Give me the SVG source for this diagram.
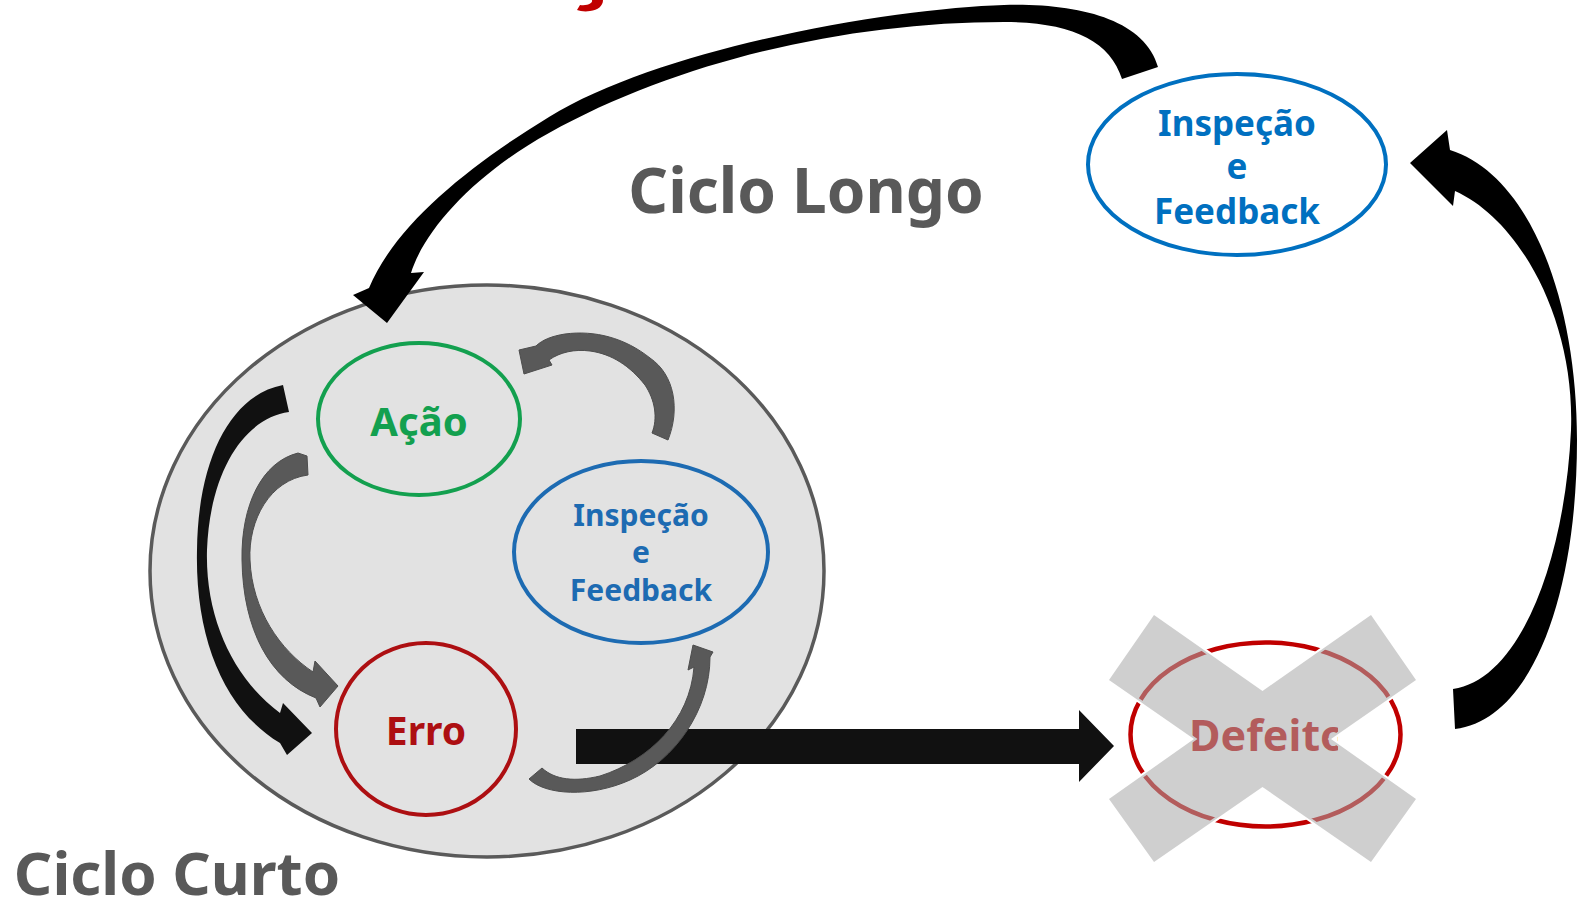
<svg xmlns="http://www.w3.org/2000/svg" width="1577" height="903" viewBox="0 0 1577 903">
<defs>
<style>
.t{font-family:"Noto Sans","Open Sans","Liberation Sans",sans-serif;font-weight:700;text-anchor:middle}
.big{fill:#595959}
.blk{fill:#000}
.dark{fill:#111}
.gry{fill:#595959;stroke:#4d4d4d;stroke-width:1}
.node{fill:none;stroke-width:4}
</style>
<clipPath id="defclip"><rect x="1150" y="690" width="188" height="80"/></clipPath>
</defs>
<rect width="1577" height="903" fill="#fff"/>
<path d="M603,0 C603,6 598,10 590,11 C585,12 580,11 577,10 L580,5 C588,6 593,3 592,0 Z" fill="#c00000"/>
<g id="ciclo-curto-area">
<ellipse cx="487" cy="571" rx="337" ry="286" fill="#e2e2e2" stroke="#5a5a5a" stroke-width="3.5"/>
</g>
<g id="connectors">
<path class="dark" d="M283,385 L289,412 C245,418 210,470 207,550 C205,620 235,680 280,713 L283,703 L312,733 L287,755 L280,743 C225,710 195,640 197,550 C198,460 230,395 283,385 Z"/>
<path class="gry" d="M298,453 L307,456 L308,475 C270,480 248,520 250,560 C252,610 280,650 313,672 L315,661 L338,686 L320,707 L316,698 C270,680 243,630 242,560 C241,505 262,462 298,453 Z"/>
<path class="gry" d="M652,433 L668,440 C680,410 675,375 650,358 C625,338 595,330 565,334 C552,336 542,340 536,346 L519,350 L524,374 L552,365 L549,360 C560,352 575,349 590,351 C612,354 630,366 645,385 C655,400 658,418 652,433 Z"/>
<path class="dark" d="M576,729 L1079,729 L1079,710 L1114,746 L1079,782 L1079,764 L576,764 Z"/>
<path class="gry" d="M542,768 L529,779 C545,795 590,798 630,780 C675,760 710,710 710,657 L713,652 L693,645 L688,670 L694,667 C690,720 650,760 600,776 C575,782 555,780 542,768 Z"/>
<path class="blk" d="M1158,67 C1145,20 1080,3 1004,5 C900,8 667,45 549,117 C470,165 395,225 369,288 L353,295 L387,323 L424,272 L411,273 C425,228 478,172 549,133 C680,60 850,22 1004,22 C1070,22 1110,40 1122,79 Z"/>
<path class="blk" d="M1453,689 C1520,680 1565,560 1571,430 C1575,320 1520,220 1455,191 L1453,206 L1410,163 L1447,130 L1450,150 C1530,175 1577,300 1577,440 C1577,600 1530,720 1455,729 Z"/>
</g>
<g id="acao">
<ellipse class="node" cx="419" cy="419" rx="101" ry="76" stroke="#13a04f"/>
<text class="t" x="419" y="436" font-size="40" fill="#13a04f">Ação</text>
</g>
<g id="inspecao-curto">
<ellipse class="node" cx="641" cy="552" rx="127" ry="91" stroke="#1d6bb2"/>
<text class="t" x="641" y="526" font-size="30" fill="#1d6bb2">Inspeção</text>
<text class="t" x="641" y="563" font-size="30" fill="#1d6bb2">e</text>
<text class="t" x="641" y="601" font-size="30" fill="#1d6bb2">Feedback</text>
</g>
<g id="erro">
<ellipse class="node" cx="426" cy="729" rx="90" ry="86" stroke="#ad0f12"/>
<text class="t" x="426" y="745" font-size="39" fill="#ad0f12">Erro</text>
</g>
<g id="inspecao-longo">
<ellipse class="node" cx="1237" cy="164.5" rx="149" ry="90.5" stroke="#0070c0"/>
<text class="t" x="1237" y="136" font-size="35" fill="#0070c0">Inspeção</text>
<text class="t" x="1237" y="179" font-size="35" fill="#0070c0">e</text>
<text class="t" x="1237" y="224" font-size="35" fill="#0070c0">Feedback</text>
</g>
<g id="defeito">
<ellipse cx="1265.5" cy="734.5" rx="135" ry="92" fill="none" stroke="#c00000" stroke-width="4.5"/>
<text class="t" x="1268" y="751" font-size="43" fill="#c00000" clip-path="url(#defclip)">Defeito</text>
<path d="M1154,615 L1262.5,691 L1371,615 L1416,680 L1331,739 L1416,799 L1371,862 L1262.5,787 L1154,862 L1109,799 L1194,739 L1109,680 Z" fill="none" stroke="#fff" stroke-width="4"/>
<path d="M1154,615 L1262.5,691 L1371,615 L1416,680 L1331,739 L1416,799 L1371,862 L1262.5,787 L1154,862 L1109,799 L1194,739 L1109,680 Z" fill="#a8a8a8" fill-opacity="0.55"/>
</g>
<g id="labels">
<text class="t big" x="806" y="213" font-size="62">Ciclo Longo</text>
<text class="t big" x="177" y="895" font-size="60">Ciclo Curto</text>
</g>
</svg>
